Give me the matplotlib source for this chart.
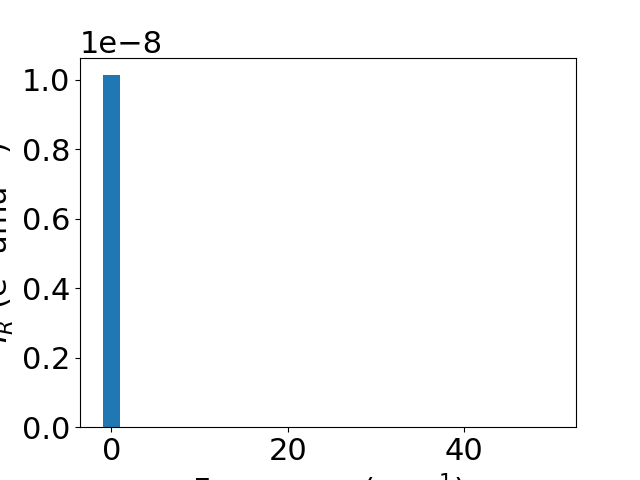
import matplotlib
matplotlib.use("Agg")
import matplotlib.pyplot as plt

frequencies = [0.0]
intensities = [1.013e-8]

plt.rcParams['font.size'] = 22
fig, ax = plt.subplots(figsize=(6.4, 4.8), dpi=100)
ax.bar(frequencies, intensities, width=1.9, color='#1f77b4')
ax.set_xlim(-3.55, 52.7)
ax.set_xlabel('Frequency (cm$^{-1}$)')
ax.set_ylabel('$I_R$ (e$^2$ amu$^{-1}$)')
fig.savefig('out.png', dpi=100)
